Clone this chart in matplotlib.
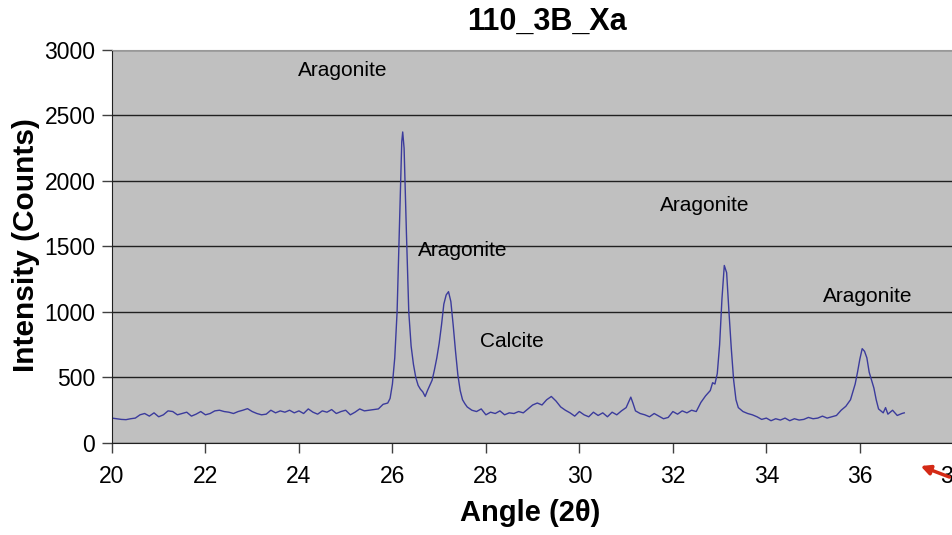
import matplotlib
matplotlib.use('Agg')
import matplotlib.pyplot as plt

plt.rcParams['font.family'] = ['Liberation Sans', 'DejaVu Sans']

angle = [20.0, 20.1, 20.2, 20.3, 20.4, 20.5, 20.6, 20.7, 20.8, 20.9,
         21.0, 21.1, 21.2, 21.3, 21.4, 21.5, 21.6, 21.7, 21.8, 21.9,
         22.0, 22.1, 22.2, 22.3, 22.4, 22.5, 22.6, 22.7, 22.8, 22.9,
         23.0, 23.1, 23.2, 23.3, 23.4, 23.5, 23.6, 23.7, 23.8, 23.9,
         24.0, 24.1, 24.2, 24.3, 24.4, 24.5, 24.6, 24.7, 24.8, 24.9,
         25.0, 25.1, 25.2, 25.3, 25.4, 25.5, 25.6, 25.7, 25.8, 25.85,
         25.9, 25.95, 26.0, 26.05, 26.1, 26.15, 26.2, 26.22, 26.25, 26.3,
         26.35, 26.4, 26.45, 26.5, 26.55, 26.6, 26.65, 26.7, 26.75, 26.8,
         26.85, 26.9, 26.95, 27.0, 27.05, 27.1, 27.15, 27.2, 27.25, 27.3,
         27.35, 27.4, 27.45, 27.5, 27.55, 27.6, 27.7, 27.8, 27.9, 28.0,
         28.1, 28.2, 28.3, 28.4, 28.5, 28.6, 28.7, 28.8, 28.9, 29.0,
         29.1, 29.2, 29.3, 29.4, 29.5, 29.6, 29.7, 29.8, 29.9, 30.0,
         30.1, 30.2, 30.3, 30.4, 30.5, 30.6, 30.7, 30.8, 30.9, 31.0,
         31.05, 31.1, 31.15, 31.2, 31.3, 31.4, 31.5, 31.6, 31.7, 31.8,
         31.9, 32.0, 32.1, 32.2, 32.3, 32.4, 32.5, 32.6, 32.7, 32.8,
         32.85, 32.9, 32.95, 33.0, 33.05, 33.1, 33.15, 33.2, 33.25, 33.3,
         33.35, 33.4, 33.5, 33.6, 33.7, 33.8, 33.9, 34.0, 34.1, 34.2,
         34.3, 34.4, 34.5, 34.6, 34.7, 34.8, 34.9, 35.0, 35.1, 35.2,
         35.3, 35.4, 35.5, 35.6, 35.7, 35.8, 35.9, 35.95, 36.0, 36.05,
         36.1, 36.15, 36.2, 36.3, 36.35, 36.4, 36.5, 36.55, 36.6, 36.7,
         36.8, 36.9, 36.95]

counts = [190, 185, 180, 178, 185, 190, 215, 225, 205, 230,
          200, 215, 245, 240, 215, 225, 235, 205, 220, 240,
          215, 225, 245, 250, 240, 235, 225, 240, 250, 262,
          240, 225, 215, 220, 250, 230, 245, 235, 250, 230,
          245, 225, 260, 235, 220, 245, 235, 255, 225, 240,
          250, 215, 235, 260, 245, 250, 255, 260, 295, 300,
          305, 340, 450, 650, 1000, 1650, 2300, 2374, 2250, 1600,
          1000, 740, 600, 500, 440, 410, 390, 355, 400, 440,
          480, 560, 650, 760, 900, 1060, 1130, 1155, 1080, 900,
          700, 520, 400, 330, 300, 275, 250, 240, 260, 215,
          235, 225, 245, 215, 230, 225, 240, 230, 260, 290,
          305, 290, 330, 355, 320, 275, 250, 230, 205, 240,
          215, 200, 235, 210, 230, 200, 235, 215, 245, 270,
          310, 350, 300, 245, 225, 215, 200, 225, 205, 185,
          195, 240, 220, 245, 230, 250, 240, 310, 360, 400,
          460, 450, 530, 750, 1100, 1355, 1300, 1000, 720, 480,
          330, 270, 240, 225, 215, 200, 180, 190, 170, 185,
          175, 190, 170, 185, 175, 180, 195, 185, 190, 205,
          190, 200, 210, 250, 280, 330, 450, 540, 640, 720,
          700, 650, 540, 420, 330, 260, 230, 270, 220, 250,
          210, 225, 230]

labels = ['Aragonite', 'Aragonite', 'Calcite', 'Aragonite', 'Aragonite']
label_x = [23.98, 26.55, 27.87, 31.72, 35.21]
label_y = [2847, 1466, 771, 1809, 1115]

fig = plt.figure(figsize=(9.52, 5.35), dpi=100)
fig.set_facecolor('white')
ax = fig.add_axes([0.1176, 0.172, 0.982, 0.7346])
ax.set_facecolor('#c0c0c0')

ax.plot(angle, counts, color='#3b3b9c', linewidth=1.0)

for t, lx, ly in zip(labels, label_x, label_y):
    ax.text(lx, ly, t, fontsize=15, ha='left', va='center', color='black')

ax.set_xlim(20, 40)
ax.set_ylim(0, 3000)
ax.set_xticks(range(20, 41, 2))
ax.set_yticks(range(0, 3001, 500))
ax.yaxis.grid(True, color='#202020', linewidth=1.0)
ax.set_axisbelow(True)
ax.tick_params(axis='both', direction='out', labelsize=16.5, length=7, width=1, color='#404040')
ax.tick_params(axis='x', pad=9)
ax.tick_params(axis='y', pad=5)

for side in ['top', 'right']:
    ax.spines[side].set_color('#999999')
ax.spines['left'].set_color('#202020')
ax.spines['bottom'].set_color('#202020')

fig.text(0.575, 0.959, '110_3B_Xa', fontsize=22, fontweight='bold', ha='center', va='center')
fig.text(0.027, 0.542, 'Intensity (Counts)', fontsize=21.5, fontweight='bold',
         rotation=90, ha='center', va='center')
fig.text(0.557, 0.041, 'Angle (2θ)', fontsize=21, fontweight='bold', ha='center', va='center')

ax.annotate('', xy=(0.9643, 0.1308), xycoords='figure fraction',
            xytext=(1.0, 0.1065), textcoords='figure fraction',
            arrowprops=dict(arrowstyle='-|>', color='#d42a16', lw=2.5, mutation_scale=14))

plt.savefig('out.png', dpi=100)
plt.close()
